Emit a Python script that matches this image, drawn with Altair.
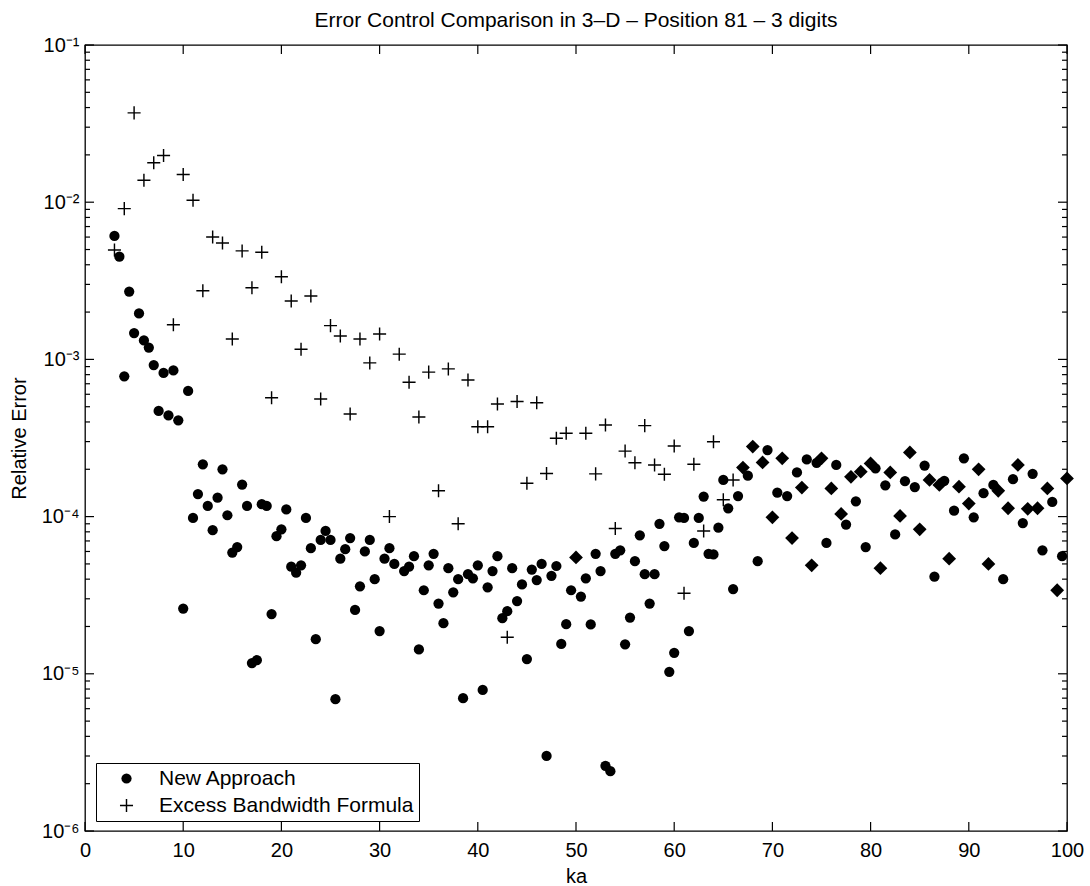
import altair as alt
import pandas as pd

# ---------------- data ----------------
new_ka = [3, 3.5, 4, 4.5, 5, 5.5, 6, 6.5, 7, 7.5, 8, 8.5, 9, 9.5, 10, 10.5,
          11, 11.5, 12, 12.5, 13, 13.5, 14, 14.5, 15, 15.5, 16, 16.5, 17, 17.5,
          18, 18.5, 19, 19.5, 20, 20.5, 21, 21.5, 22, 22.5, 23, 23.5, 24, 24.5,
          25, 25.5, 26, 26.5, 27, 27.5, 28, 28.5, 29, 29.5, 30, 30.5, 31, 31.5,
          32.5, 33, 33.5, 34, 34.5, 35, 35.5, 36, 36.5, 37, 37.5, 38, 38.5, 39,
          39.5, 40, 40.5, 41, 41.5, 42, 42.5, 43, 43.5, 44, 44.5, 45, 45.5, 46,
          46.5, 47, 47.5, 48, 48.5, 49, 49.5, 50.5, 51, 51.5, 52, 52.5, 53, 53.5,
          54, 54.5, 55, 55.5, 56, 56.5, 57, 57.5, 58, 58.5, 59, 59.5, 60, 60.5,
          61, 61.5, 62, 62.5, 63, 63.5, 64, 64.5, 65, 65.5, 66, 66.5, 67.5, 68.5,
          69.5, 70.5, 71.5, 72.5, 73.5, 74.5, 75.5, 76.5, 77.5, 78.5, 79.5, 80.5,
          81.5, 82.5, 83.5, 84.5, 85.5, 86.5, 87.5, 88.5, 89.5, 90.5, 91.5, 92.5,
          93.5, 94.5, 95.5, 96.5, 97.5, 98.5, 99.5]
new_err = [6.1e-3, 4.5e-3, 7.8e-4, 2.7e-3, 1.47e-3, 1.96e-3, 1.32e-3, 1.19e-3,
           9.2e-4, 4.7e-4, 8.2e-4, 4.4e-4, 8.5e-4, 4.1e-4, 2.6e-5, 6.3e-4,
           9.8e-5, 1.39e-4, 2.15e-4, 1.17e-4, 8.2e-5, 1.32e-4, 2.0e-4, 1.02e-4,
           5.9e-5, 6.4e-5, 1.6e-4, 1.17e-4, 1.17e-5, 1.22e-5, 1.2e-4, 1.17e-4,
           2.4e-5, 7.5e-5, 8.3e-5, 1.11e-4, 4.8e-5, 4.4e-5, 4.9e-5, 9.8e-5,
           6.3e-5, 1.66e-5, 7.1e-5, 8.1e-5, 7.1e-5, 6.9e-6, 5.4e-5, 6.2e-5,
           7.3e-5, 2.55e-5, 3.6e-5, 6.0e-5, 7.1e-5, 4.0e-5, 1.87e-5, 5.4e-5,
           6.3e-5, 5.0e-5, 4.5e-5, 4.8e-5, 5.6e-5, 1.43e-5, 3.4e-5, 4.9e-5,
           5.8e-5, 2.8e-5, 2.1e-5, 4.7e-5, 3.3e-5, 4.0e-5, 7.0e-6, 4.3e-5,
           4.05e-5, 4.9e-5, 7.9e-6, 3.55e-5, 4.5e-5, 5.6e-5, 2.26e-5, 2.5e-5,
           4.7e-5, 2.9e-5, 3.7e-5, 1.24e-5, 4.6e-5, 3.95e-5, 5.0e-5, 3.0e-6,
           4.2e-5, 4.85e-5, 1.55e-5, 2.07e-5, 3.4e-5, 3.1e-5, 4.05e-5, 2.06e-5,
           5.8e-5, 4.5e-5, 2.6e-6, 2.4e-6, 5.8e-5, 6.1e-5, 1.54e-5, 2.28e-5,
           5.2e-5, 7.6e-5, 4.3e-5, 2.8e-5, 4.3e-5, 9.0e-5, 6.5e-5, 1.03e-5,
           1.36e-5, 9.9e-5, 9.8e-5, 1.87e-5, 6.8e-5, 9.8e-5, 1.34e-4, 5.8e-5,
           5.75e-5, 8.5e-5, 1.71e-4, 1.13e-4, 3.46e-5, 1.35e-4, 1.82e-4, 5.2e-5,
           2.65e-4, 1.42e-4, 1.35e-4, 1.91e-4, 2.31e-4, 2.2e-4, 6.8e-5, 2.13e-4,
           8.9e-5, 1.25e-4, 6.4e-5, 2.03e-4, 1.58e-4, 7.7e-5, 1.68e-4, 1.54e-4,
           2.11e-4, 4.15e-5, 1.69e-4, 1.09e-4, 2.35e-4, 9.9e-5, 1.41e-4, 1.59e-4,
           4.0e-5, 1.73e-4, 9.1e-5, 1.87e-4, 6.1e-5, 1.24e-4, 5.6e-5]

exc_ka = [3, 4, 5, 6, 7, 8, 9, 10, 11, 12, 13, 14, 15, 16, 17, 18, 19, 20, 21,
          22, 23, 24, 25, 26, 27, 28, 29, 30, 31, 32, 33, 34, 35, 36, 37, 38, 39,
          40, 41, 42, 43, 44, 45, 46, 47, 48, 49, 51, 52, 53, 54, 55, 56, 57, 58,
          59, 60, 61, 62, 63, 64, 65, 66]
exc_err = [4.97e-3, 9.1e-3, 3.7e-2, 1.38e-2, 1.78e-2, 1.98e-2, 1.66e-3, 1.5e-2,
           1.03e-2, 2.73e-3, 6.0e-3, 5.5e-3, 1.35e-3, 4.9e-3, 2.86e-3, 4.8e-3,
           5.7e-4, 3.36e-3, 2.35e-3, 1.16e-3, 2.53e-3, 5.6e-4, 1.64e-3, 1.41e-3,
           4.5e-4, 1.35e-3, 9.5e-4, 1.45e-3, 1.0e-4, 1.08e-3, 7.15e-4, 4.3e-4,
           8.3e-4, 1.46e-4, 8.7e-4, 9.0e-5, 7.4e-4, 3.73e-4, 3.73e-4, 5.2e-4,
           1.71e-5, 5.4e-4, 1.63e-4, 5.3e-4, 1.88e-4, 3.15e-4, 3.39e-4, 3.39e-4,
           1.87e-4, 3.83e-4, 8.4e-5, 2.61e-4, 2.2e-4, 3.79e-4, 2.13e-4, 1.86e-4,
           2.81e-4, 3.25e-5, 2.15e-4, 8.1e-5, 2.99e-4, 1.28e-4, 1.71e-4]

# integer ka where both series fall on the same spot (drawn as a merged marker)
both_ka = [50, 67, 68, 69, 70, 71, 72, 73, 74, 75, 76, 77, 78, 79, 80, 81, 82,
           83, 84, 85, 86, 87, 88, 89, 90, 91, 92, 93, 94, 95, 96, 97, 98, 99, 100]
both_err = [5.5e-5, 2.05e-4, 2.79e-4, 2.21e-4, 9.9e-5, 2.35e-4, 7.3e-5, 1.53e-4,
            4.9e-5, 2.35e-4, 1.51e-4, 1.04e-4, 1.79e-4, 1.93e-4, 2.18e-4, 4.7e-5,
            1.91e-4, 1.01e-4, 2.56e-4, 8.3e-5, 1.71e-4, 1.59e-4, 5.4e-5, 1.55e-4,
            1.21e-4, 2.0e-4, 5.0e-5, 1.46e-4, 1.13e-4, 2.13e-4, 1.12e-4, 1.13e-4,
            1.51e-4, 3.4e-5, 1.75e-4]

series_names = ["New Approach", "Excess Bandwidth Formula"]
x_ticks = [0, 10, 20, 30, 40, 50, 60, 70, 80, 90, 100]
y_decades = [1e-6, 1e-5, 1e-4, 1e-3, 1e-2, 1e-1]
y_minor = [k * d for d in [1e-6, 1e-5, 1e-4, 1e-3, 1e-2] for k in range(2, 10)]

# ---------------- chart ----------------
W, H = 982, 786
FONT = "Liberation Sans"
# thin plus drawn as a filled outline so that it shows the same in the legend
PLUS = ("M-1,-0.11L-0.11,-0.11L-0.11,-1L0.11,-1L0.11,-0.11L1,-0.11L1,0.11"
        "L0.11,0.11L0.11,1L-0.11,1L-0.11,0.11L-1,0.11Z")

xs = alt.Scale(domain=[0, 100], nice=False, zero=False)
ys = alt.Scale(type="log", domain=[1e-6, 1e-1], nice=False)

label_expr = ("datum.value < 3e-6 ? '10\u207b\u2076' : "
              "datum.value < 3e-5 ? '10\u207b\u2075' : "
              "datum.value < 3e-4 ? '10\u207b\u2074' : "
              "datum.value < 3e-3 ? '10\u207b\u00b3' : "
              "datum.value < 3e-2 ? '10\u207b\u00b2' : '10\u207b\u00b9'")

AX_X = alt.Axis(values=x_ticks, title="ka", ticks=False, domain=False,
                grid=False, labelFlush=False, labelFontSize=20, labelPadding=9,
                labelFont=FONT, labelColor="black", titleFont=FONT,
                titleFontSize=20, titleFontWeight="normal", titleColor="black",
                titlePadding=6)
AX_Y = alt.Axis(values=y_decades, labelExpr=label_expr, title="Relative Error",
                ticks=False, domain=False, grid=False, labelFlush=False,
                labelFontSize=20, labelPadding=6, labelFont=FONT,
                labelColor="black", titleFont=FONT, titleFontSize=20,
                titleFontWeight="normal", titleColor="black", titlePadding=12)
LEG = alt.Legend(title=None, orient="none", legendX=11, legendY=718,
                 strokeColor="black", fillColor="white", padding=5,
                 labelFont=FONT, labelFontSize=21, labelColor="black",
                 labelLimit=500, symbolOffset=15, labelOffset=22, rowPadding=5,
                 symbolFillColor="black", symbolStrokeColor="black",
                 symbolStrokeWidth=0)

df = pd.DataFrame({
    "ka": new_ka + exc_ka,
    "err": new_err + exc_err,
    "series": [series_names[0]] * len(new_ka) + [series_names[1]] * len(exc_ka),
})
both_df = pd.DataFrame({"ka": both_ka, "err": both_err})
xt_df = pd.DataFrame({"ka": x_ticks})
yt_df = pd.DataFrame({"err": y_decades})
ym_df = pd.DataFrame({"err": y_minor})

points = alt.Chart(df).mark_point(
    filled=True, color="black", opacity=1
).encode(
    x=alt.X("ka:Q", scale=xs, axis=AX_X),
    y=alt.Y("err:Q", scale=ys, axis=AX_Y),
    shape=alt.Shape("series:N", scale=alt.Scale(domain=series_names,
                                                range=["circle", PLUS]),
                    legend=LEG),
    size=alt.Size("series:N", scale=alt.Scale(domain=series_names,
                                              range=[105, 170]), legend=LEG),
)

diamonds = alt.Chart(both_df).mark_point(
    shape="diamond", filled=True, color="black", size=190, opacity=1
).encode(x=alt.X("ka:Q", scale=xs, axis=AX_X),
         y=alt.Y("err:Q", scale=ys, axis=AX_Y))

tick_style = dict(color="black", strokeWidth=1.2)
xb = alt.Chart(xt_df).mark_rule(**tick_style).encode(
    x=alt.X("ka:Q", scale=xs, axis=AX_X), y=alt.value(H), y2=alt.value(H - 9))
xtp = alt.Chart(xt_df).mark_rule(**tick_style).encode(
    x=alt.X("ka:Q", scale=xs, axis=AX_X), y=alt.value(0), y2=alt.value(9))
yl = alt.Chart(yt_df).mark_rule(**tick_style).encode(
    y=alt.Y("err:Q", scale=ys, axis=AX_Y), x=alt.value(0), x2=alt.value(9))
yr = alt.Chart(yt_df).mark_rule(**tick_style).encode(
    y=alt.Y("err:Q", scale=ys, axis=AX_Y), x=alt.value(W), x2=alt.value(W - 9))
yml = alt.Chart(ym_df).mark_rule(**tick_style).encode(
    y=alt.Y("err:Q", scale=ys, axis=AX_Y), x=alt.value(0), x2=alt.value(5))
ymr = alt.Chart(ym_df).mark_rule(**tick_style).encode(
    y=alt.Y("err:Q", scale=ys, axis=AX_Y), x=alt.value(W), x2=alt.value(W - 5))

chart = alt.layer(points, diamonds, xb, xtp, yl, yr, yml, ymr).properties(
    width=W, height=H,
    title=alt.TitleParams(
        "Error Control Comparison in 3\u2013D \u2013 Position 81 \u2013 3 digits",
        font=FONT, fontSize=21, fontWeight="normal", color="black",
        anchor="middle", offset=4),
    autosize=alt.AutoSizeParams(type="none"),
    padding={"left": 85, "top": 45, "right": 22, "bottom": 55},
).configure(background="white").configure_view(stroke="black", strokeWidth=1.3)

chart.save("out.html", embed_options={"renderer": "svg", "actions": False})
